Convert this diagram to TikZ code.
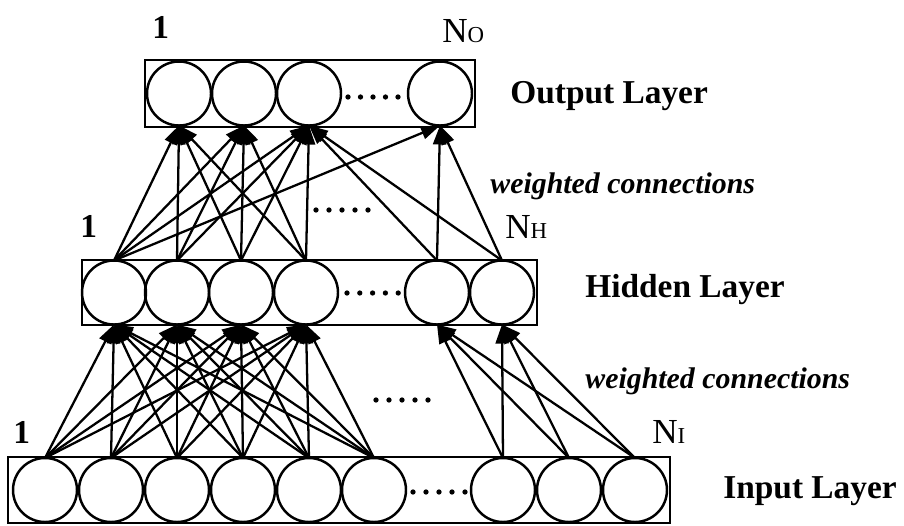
\documentclass[tikz,border=0pt]{standalone}
\usepackage{fontspec}
\setmainfont{Liberation Serif}
\usetikzlibrary{arrows.meta}

\begin{document}
\begin{tikzpicture}[x=0.02cm, y=-0.02cm,
  unit/.style={draw, circle, line width=1.4pt, minimum size=1.28cm, inner sep=0pt, outer sep=0pt},
  layerbox/.style={draw, line width=1.4pt},
  conn/.style={line width=1.3pt, -{Triangle[length=0.38cm, width=0.26cm]}},
  laytext/.style={font=\fontsize{19}{22}\selectfont\bfseries, anchor=base west},
  wtext/.style={font=\fontsize{17}{20}\selectfont\bfseries\itshape, anchor=base west},
  idx/.style={font=\fontsize{20}{24}\selectfont, anchor=base west, inner sep=0pt}]
  \useasboundingbox (0,0) rectangle (904,525);

  % Output layer
  \draw[layerbox] (145,60) rectangle (475,127);
  \foreach \n/\x in {1/179, 2/244, 3/309, 4/440}
    \node[unit] (o\n) at (\x,93.5) {};
  \foreach \d in {0,...,4}
    \fill (348+\d*12.5,97) circle (1.5pt);

  % Hidden layer
  \draw[layerbox] (82,260) rectangle (537,325);
  \foreach \n/\x in {1/114, 2/177, 3/241, 4/306, 5/437, 6/502}
    \node[unit] (h\n) at (\x,292.5) {};
  \foreach \d in {0,...,4}
    \fill (347+\d*12.8,293) circle (1.5pt);

  % Input layer
  \draw[layerbox] (8,457) rectangle (670,523);
  \foreach \n/\x in {1/45, 2/111, 3/177, 4/243, 5/309, 6/374, 7/503, 8/569, 9/635}
    \node[unit] (i\n) at (\x,490) {};
  \foreach \d in {0,...,4}
    \fill (413+\d*13,492) circle (1.5pt);

  % input -> hidden
  \foreach \a in {1,...,6}
    \foreach \b in {1,...,4}
      \draw[conn] (i\a.north) -- (h\b.south);
  \foreach \a in {7,8,9}
    \foreach \b in {5,6}
      \draw[conn] (i\a.north) -- (h\b.south);

  % hidden -> output
  \foreach \a/\b in {1/1, 1/2, 1/3, 1/4, 2/1, 2/2, 2/3, 3/1, 3/2, 3/3,
                     4/1, 4/2, 4/3, 5/3, 5/4, 6/3, 6/4}
    \draw[conn] (h\a.north) -- (o\b.south);

  % skipped units
  \foreach \d in {0,...,4}
    \fill (316+\d*13,210) circle (1.5pt);
  \foreach \d in {0,...,4}
    \fill (376+\d*13,400) circle (1.5pt);

  % Labels
  \node[idx, font=\fontsize{19}{22}\selectfont\bfseries] (o1lbl) at (152,38) {1};
  \node[idx] (onlbl) at (442,42) {N{\fontsize{13}{15}\selectfont O}};
  \node[idx, font=\fontsize{19}{22}\selectfont\bfseries] (h1lbl) at (80,237) {1};
  \node[idx] (hnlbl) at (505,238) {N{\fontsize{13}{15}\selectfont H}};
  \node[idx, font=\fontsize{19}{22}\selectfont\bfseries] (i1lbl) at (13,443) {1};
  \node[idx] (inlbl) at (652,443) {N{\fontsize{13}{15}\selectfont I}};

  \node[laytext, inner sep=0pt] (outname) at (510,103) {Output Layer};
  \node[laytext, inner sep=0pt] (hidname) at (585,297) {Hidden Layer};
  \node[laytext, inner sep=0pt] (inname) at (723,498) {Input Layer};

  \node[wtext, inner sep=0pt] (wupper) at (490,193) {weighted connections};
  \node[wtext, inner sep=0pt] (wlower) at (585,388) {weighted connections};
\end{tikzpicture}
\end{document}
